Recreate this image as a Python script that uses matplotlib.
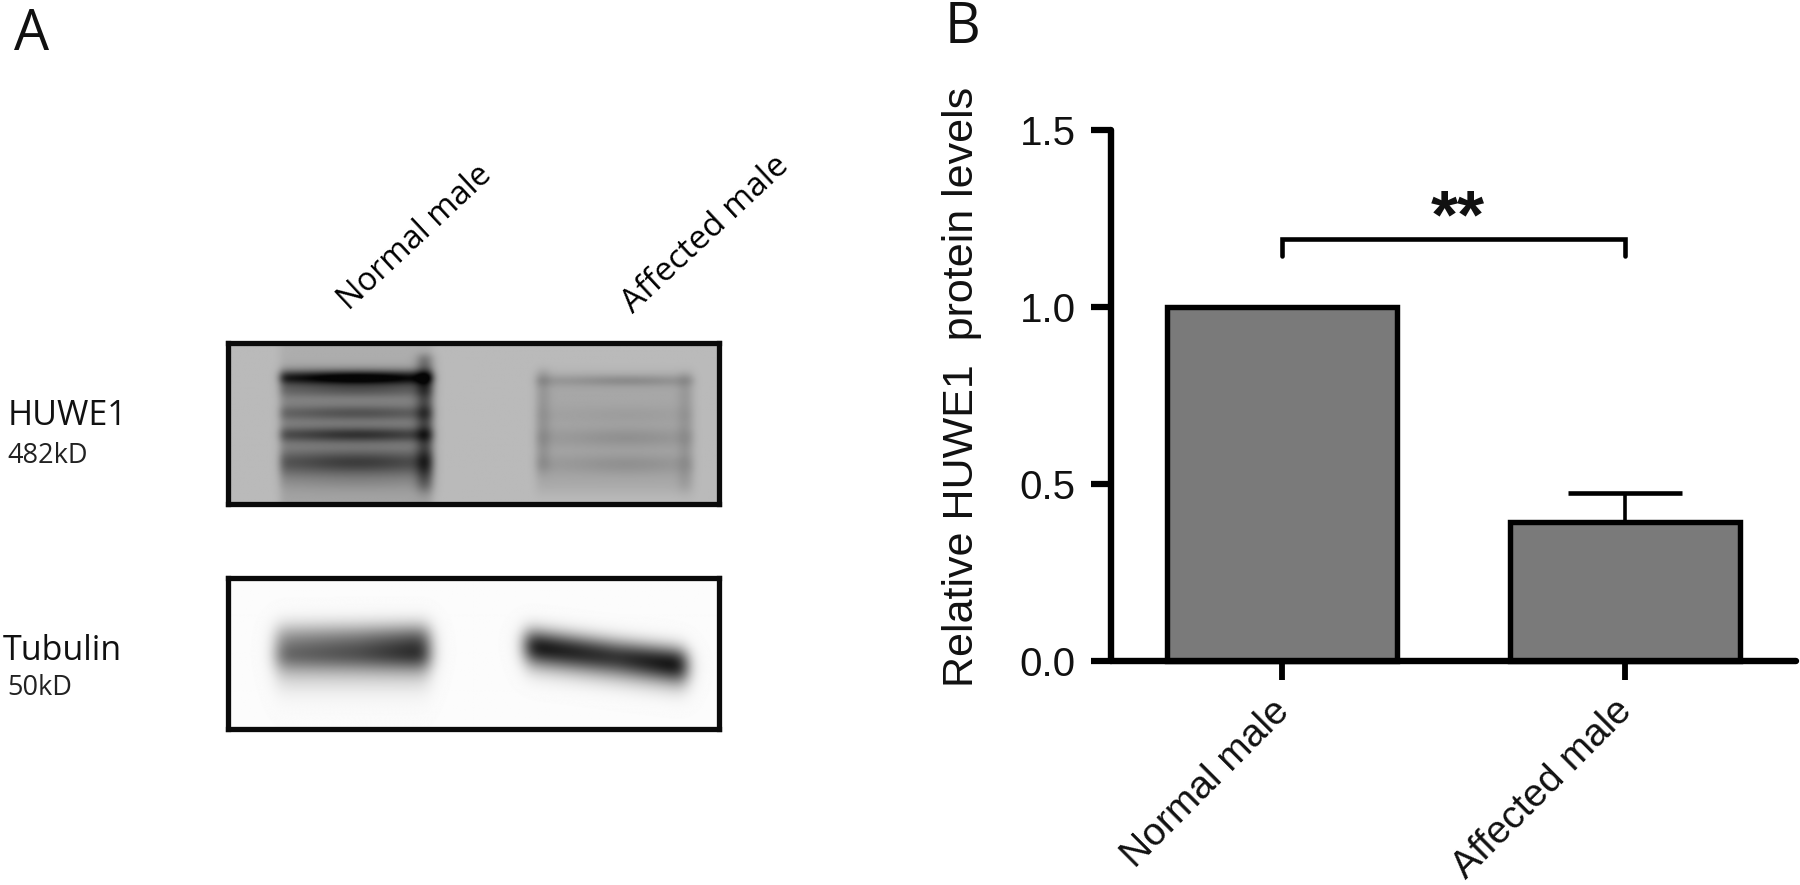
import numpy as np
import matplotlib
matplotlib.use("Agg")
import matplotlib.pyplot as plt
from matplotlib.transforms import ScaledTranslation

# ---------- data ----------
groups = ["Normal male", "Affected male"]
protein_levels = [1.0, 0.393]
protein_errors = [0.0, 0.082]
y_ticks = [0.0, 0.5, 1.0, 1.5]
significance = "**"
y_label = "Relative HUWE1  protein levels"

# blot band estimates: (relative row, peak darkness, row spread) per lane
huwe1_normal_rows = [35, 47, 71, 93, 121, 142]
huwe1_normal_dark = [0.66, 0.20, 0.22, 0.36, 0.30, 0.07]
huwe1_normal_sig = [4.5, 5, 5, 5, 8, 6]
huwe1_affected_rows = [38, 73, 96, 123]
huwe1_affected_dark = [0.13, 0.04, 0.09, 0.09]
huwe1_affected_sig = [3.5, 6, 7, 7]
tubulin_normal_peak = [0.50, 0.60, 0.76]
tubulin_affected_peak = [0.92, 0.80, 0.96]

W, H = 1800, 885
fig = plt.figure(figsize=(W / 100, H / 100), dpi=100, facecolor="white")


def px_axes(x0, y0, x1, y1):
    return fig.add_axes([x0 / W, 1 - y1 / H, (x1 - x0) / W, (y1 - y0) / H])


def px_text(x, y, s, **kw):
    fig.text(x / W, 1 - y / H, s, **kw)


def step(v, s):
    return 1 / (1 + np.exp(-v / s))


def blur(img, sigma):
    r = int(3 * sigma)
    k = np.exp(-(np.arange(-r, r + 1) ** 2) / (2 * sigma ** 2))
    k /= k.sum()
    pad = np.pad(img, r, mode="edge")
    pad = np.apply_along_axis(lambda m: np.convolve(m, k, mode="same"), 0, pad)
    pad = np.apply_along_axis(lambda m: np.convolve(m, k, mode="same"), 1, pad)
    return pad[r:-r, r:-r]


# ---------- panel A: blots ----------
OPEN = "Open Sans"
px_text(14, 50, "A", fontsize=40, family=OPEN, color="#111111")
px_text(8, 425, "HUWE1", fontsize=24.5, family=OPEN, color="#111111")
px_text(7, 463, "482kD", fontsize=19.5, family=OPEN, color="#222222")
px_text(3, 660, "Tubulin", fontsize=24.5, family=OPEN, color="#111111")
px_text(7, 695, "50kD", fontsize=19.5, family=OPEN, color="#222222")
px_text(349, 311, groups[0], fontsize=23.5, family=OPEN, rotation=43, rotation_mode="anchor", color="#000000", ha="left", va="baseline")
px_text(633, 314, groups[1], fontsize=24, family=OPEN, rotation=43, rotation_mode="anchor", color="#000000", ha="left", va="baseline")

# HUWE1 blot (pixels in a 494 x 164 box)
bw, bh = 494, 164
yy, xx = np.mgrid[0:bh, 0:bw].astype(float)
dark = np.zeros((bh, bw))
lane1 = step(xx - 52, 2) * step(205 - xx, 2)
lane2 = step(xx - 309, 2) * step(467 - xx, 2)
dark += 0.20 * lane1 * step(yy - 26, 3) * step(135 - yy, 4)
dark += 0.09 * lane1 * step(yy - 130, 3)
dark += 0.05 * lane1 * step(30 - yy, 4)
dark += 0.075 * lane2 * step(yy - 30, 3) * step(150 - yy, 4)
for r, d, s in zip(huwe1_normal_rows, huwe1_normal_dark, huwe1_normal_sig):
    texture = 0.84 + 0.16 * np.cos((xx - 130) / 27)
    dark += d * lane1 * texture * np.exp(-((yy - r) ** 2) / (2 * s ** 2))
for r, d, s in zip(huwe1_affected_rows, huwe1_affected_dark, huwe1_affected_sig):
    texture = 0.8 + 0.2 * np.cos((xx - 400) / 23)
    dark += d * lane2 * texture * np.exp(-((yy - r) ** 2) / (2 * s ** 2))
# darker right-hand edge of the first lane and left/right edges of the second
dark += 0.24 * np.exp(-((xx - 197) ** 2) / (2 * 6 ** 2)) * step(yy - 12, 2) * step(150 - yy, 4)
dark += 0.07 * np.exp(-((xx - 316) ** 2) / (2 * 5 ** 2)) * step(yy - 26, 2) * step(130 - yy, 4)
dark += 0.06 * np.exp(-((xx - 458) ** 2) / (2 * 5 ** 2)) * step(yy - 30, 2) * step(150 - yy, 4)
blot1 = np.clip(blur(0.73 - dark, 2.2), 0.02, 1)

ax1 = px_axes(228, 343, 719, 504)
ax1.imshow(blot1, cmap="gray", vmin=0, vmax=1, aspect="auto", interpolation="bilinear")

# Tubulin blot (pixels in a 494 x 155 box)
th = 155
yy, xx = np.mgrid[0:th, 0:bw].astype(float)
lane1 = step(xx - 48, 3) * step(202 - xx, 3)
lane2 = step(xx - 298, 3) * step(460 - xx, 3)
pk1 = np.interp(xx, [60, 130, 190], tubulin_normal_peak)
pk2 = np.interp(xx, [315, 390, 450], tubulin_affected_peak)
c2 = 69 + (xx - 303) * 0.128
dark = lane1 * pk1 * np.exp(-np.abs((yy - 70) / 21) ** 2.4)
dark += lane1 * 0.22 * step(yy - 74, 3) * step(108 - yy, 8)
dark += lane2 * pk2 * np.exp(-np.abs((yy - c2) / 16) ** 2.2)
dark += lane2 * 0.15 * np.exp(-((yy - c2 - 19) ** 2) / (2 * 10 ** 2))
dark = blur(dark, 5.5)
blot2 = np.clip(0.985 - dark, 0.03, 1)

ax2 = px_axes(228, 578, 719, 729)
ax2.imshow(blot2, cmap="gray", vmin=0, vmax=1, aspect="auto", interpolation="bilinear")

for a in (ax1, ax2):
    a.set_xticks([])
    a.set_yticks([])
    for sp in a.spines.values():
        sp.set_linewidth(3.8)
        sp.set_color("#0a0a0a")

# ---------- panel B: bar chart ----------
SANS = "Liberation Sans"
px_text(945, 43, "B", fontsize=40, family=OPEN, color="#111111")

ax = px_axes(1111, 130, 1796, 661)
xpos = np.arange(len(groups))
ax.bar(xpos, protein_levels, width=0.67, color="#7a7a7a", edgecolor="black", linewidth=3.9, zorder=2, clip_on=False)
ax.errorbar(xpos[1:], protein_levels[1:], yerr=[[0], protein_errors[1:]], color="black", elinewidth=2.6,
            capsize=41, capthick=3.3, zorder=1, fmt="none", clip_on=False)
ax.set_xlim(-0.4985, 1.4985)
ax.set_ylim(0, 1.5)
ax.set_yticks(y_ticks)
ax.set_yticklabels([f"{v:.1f}" for v in y_ticks], fontsize=29, family=SANS, color="#111111")
ax.set_xticks(xpos)
ax.set_xticklabels(groups, rotation=45, ha="right", rotation_mode="anchor", fontsize=28, family=SANS, color="#111111")
ax.tick_params(axis="y", length=14.5, width=4.5, pad=11)
ax.tick_params(axis="x", length=14, width=4.2, pad=9)
shift = ScaledTranslation(-8 / 72, 0, fig.dpi_scale_trans)
for lab in ax.get_xticklabels():
    lab.set_transform(lab.get_transform() + shift)
for t in ax.get_xticklines() + ax.get_yticklines():
    t.set_solid_capstyle("round")
for s in ("top", "right"):
    ax.spines[s].set_visible(False)
for s in ("left", "bottom"):
    ax.spines[s].set_linewidth(4.6)
    ax.spines[s].set_capstyle("round")
    ax.spines[s].set_zorder(5)
ax.set_ylabel(y_label, fontsize=31, family=SANS, color="#111111")
ax.yaxis.set_label_coords((982 - 1111) / 685, (661 - 387) / 531)
ax.patch.set_alpha(0)

# significance bracket, spanning the two bars
ax.plot([xpos[0], xpos[0], xpos[1], xpos[1]], [1.144, 1.192, 1.192, 1.144], color="black", lw=3.3,
        solid_joinstyle="miter", solid_capstyle="round", zorder=3)
ax.text(xpos.mean() + 0.013, 1.196, significance, ha="center", va="baseline", fontsize=50, fontweight="bold",
        family=SANS, color="#111111")

fig.savefig("out.png", dpi=100, facecolor="white")
